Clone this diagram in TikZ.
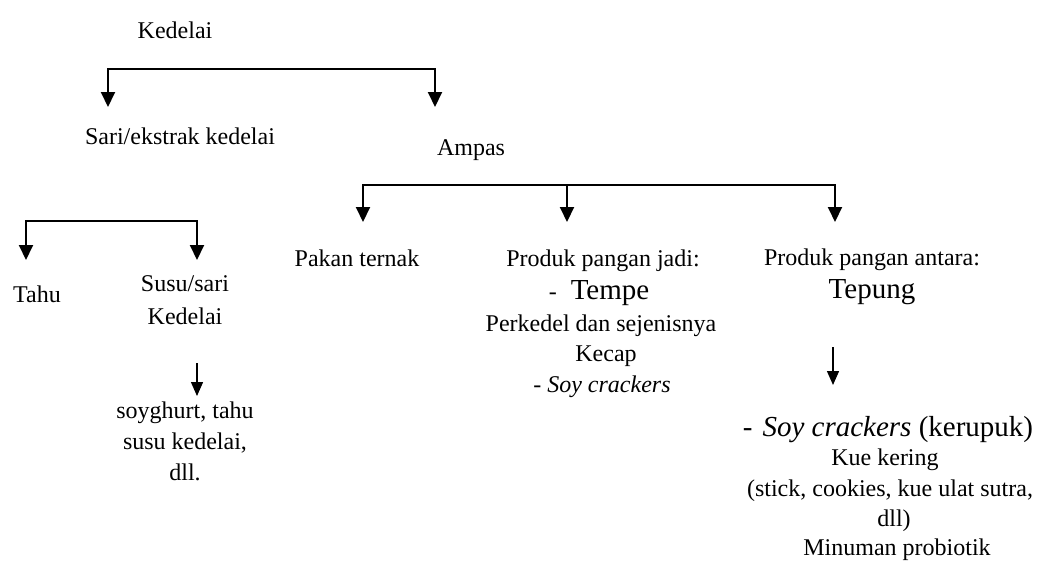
\documentclass[tikz,border=0pt]{standalone}
\usepackage{fontspec}
\setmainfont{Liberation Serif}
\usetikzlibrary{arrows.meta}
\begin{document}
\begin{tikzpicture}[x=1pt,y=-1pt,
  lbl/.style={inner sep=0pt, anchor=base, font=\fontsize{24}{28}\selectfont},
  big/.style={inner sep=0pt, anchor=base, font=\fontsize{29}{34}\selectfont},
  brk/.style={line width=2pt, line join=miter,
    {Triangle[width=14pt,length=15pt]}-{Triangle[width=14pt,length=15pt]}},
  arr/.style={line width=2pt, -{Triangle[width=14pt,length=15pt]}},
  thinarr/.style={line width=1.4pt, -{Triangle[width=12pt,length=14pt]}}]
\useasboundingbox (0,0) rectangle (1046,565);

% texts
\node[lbl] (kedelai) at (175,38) {Kedelai};
\node[lbl] (sari) at (180,144) {Sari/ekstrak kedelai};
\node[lbl] (ampas) at (471,155) {Ampas};
\node[lbl] (tahu) at (37,302) {Tahu};
\node[lbl] (susu1) at (185,291) {Susu/sari};
\node[lbl] (susu2) at (185,324) {Kedelai};
\node[lbl] (soy1) at (185,418) {soyghurt, tahu};
\node[lbl] (soy2) at (185,449) {susu kedelai,};
\node[lbl] (soy3) at (185,480) {dll.};
\node[lbl] (pakan) at (357,266) {Pakan ternak};
\node[lbl] (jadi) at (603,266) {Produk pangan jadi:};
\node[big] (tempe) at (599,299) {{\fontsize{24}{28}\selectfont -}\hspace{14pt}Tempe};
\node[lbl] (perkedel) at (601,331) {Perkedel dan sejenisnya};
\node[lbl] (kecap) at (606,361) {Kecap};
\node[lbl] (soyc) at (602,392) {- \textit{Soy crackers}};
\node[lbl] (antara) at (872,265) {Produk pangan antara:};
\node[big] (tepung) at (872,298) {Tepung};
\node[big] (kerupuk) at (888,436) {-\hspace{10pt}\textit{Soy crackers} (kerupuk)};
\node[lbl] (kue) at (885,465) {Kue kering};
\node[lbl] (stick) at (890,496) {(stick, cookies, kue ulat sutra,};
\node[lbl] (dll) at (894,526) {dll)};
\node[lbl] (minuman) at (897,555) {Minuman probiotik};

% bracket coordinates
\coordinate (tl) at (108,69);  \coordinate (tr) at (435,69);
\coordinate (tlt) at (108,107); \coordinate (trt) at (435,107);
\coordinate (al) at (363,185); \coordinate (am) at (567,185); \coordinate (ar) at (835,185);
\coordinate (alt) at (363,222); \coordinate (amt) at (567,222); \coordinate (art) at (835,222);
\coordinate (sl) at (26,221); \coordinate (sr) at (197,221);
\coordinate (slt) at (26,260); \coordinate (srt) at (197,260);
\coordinate (ss) at (197,363); \coordinate (sst) at (197,396);
\coordinate (ts) at (833,347); \coordinate (tst) at (833,385);

% connectors
\draw[brk] (tlt) -- (tl) -- (tr) -- (trt);
\draw[brk] (alt) -- (al) -- (ar) -- (art);
\draw[arr] (am) -- (amt);
\draw[brk] (slt) -- (sl) -- (sr) -- (srt);
\draw[thinarr] (ss) -- (sst);
\draw[thinarr] (ts) -- (tst);
\end{tikzpicture}
\end{document}
